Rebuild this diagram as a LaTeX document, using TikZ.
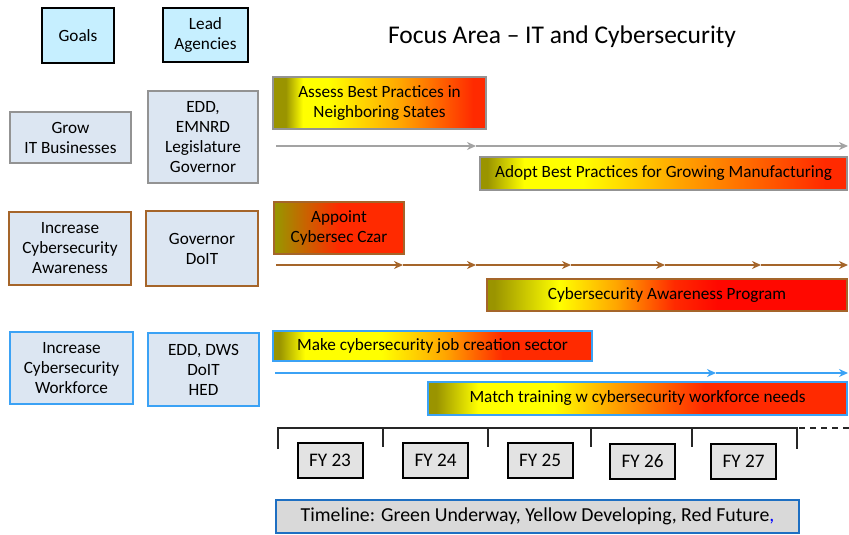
\documentclass[tikz,border=0pt]{standalone}
\usepackage{fontspec}
\setmainfont{Carlito}
\usetikzlibrary{arrows.meta}

\definecolor{hdrfill}{HTML}{C6EFFF}
\definecolor{goalfill}{HTML}{DCE6F2}
\definecolor{grayln}{HTML}{A3A3A3}
\definecolor{brownln}{HTML}{A5652A}
\definecolor{blueln}{HTML}{3BA2F5}
\definecolor{olv}{HTML}{9A9400}
\definecolor{yel}{HTML}{FFFF00}
\definecolor{org}{HTML}{FFA500}
\definecolor{rd}{HTML}{FF2A00}
\definecolor{rdd}{HTML}{FF0800}
\definecolor{fyfill}{HTML}{E3E3E3}
\definecolor{legfill}{HTML}{D9D9D9}
\definecolor{legln}{HTML}{1E6FC2}

% status gradients: the path's width maps onto 25bp..75bp
\pgfdeclarehorizontalshading{shAssess}{100bp}{color(0bp)=(olv); color(28bp)=(olv); color(32bp)=(yel); color(38bp)=(yel); color(55bp)=(org); color(72bp)=(rd); color(100bp)=(rd)}
\pgfdeclarehorizontalshading{shAppoint}{100bp}{color(0bp)=(olv); color(26bp)=(olv); color(50bp)=(rd); color(100bp)=(rd)}
\pgfdeclarehorizontalshading{shAdopt}{100bp}{color(0bp)=(olv); color(26bp)=(olv); color(31bp)=(yel); color(39bp)=(yel); color(52bp)=(org); color(72bp)=(rd); color(100bp)=(rd)}
\pgfdeclarehorizontalshading{shAware}{100bp}{color(0bp)=(olv); color(26bp)=(olv); color(35bp)=(yel); color(43bp)=(org); color(51bp)=(rd); color(57bp)=(rdd); color(100bp)=(rdd)}
\pgfdeclarehorizontalshading{shMake}{100bp}{color(0bp)=(olv); color(26bp)=(olv); color(30bp)=(yel); color(42bp)=(yel); color(52bp)=(org); color(61bp)=(rd); color(100bp)=(rd)}
\pgfdeclarehorizontalshading{shMatch}{100bp}{color(0bp)=(olv); color(26bp)=(olv); color(31bp)=(yel); color(40bp)=(yel); color(47bp)=(org); color(58bp)=(rd); color(100bp)=(rd)}

\tikzset{
  txt/.style={font=\fontsize{17.2}{20}\selectfont, align=center, inner sep=0pt},
  hdrbox/.style={txt, draw=black, line width=2.2pt, fill=hdrfill},
  goalbox/.style={txt, fill=goalfill, line width=2pt},
  barbox/.style={txt, line width=2pt},
  fybox/.style={txt, font=\fontsize{19.2}{22}\selectfont, draw=black, line width=2pt, fill=fyfill, minimum width=65pt, minimum height=35pt},
  tip/.style={-{Stealth[length=9pt,width=8pt]}},
  grayarr/.style={tip, draw=grayln, line width=2.4pt},
  brownarr/.style={tip, draw=brownln, line width=2.8pt},
  bluearr/.style={tip, draw=blueln, line width=2.4pt},
  bracket/.style={draw=black!85, line width=1.8pt}
}

\begin{document}
\begin{tikzpicture}[x=1pt,y=-1pt]
\useasboundingbox (0,0) rectangle (849,535);

% column headers and title
\node[hdrbox, minimum width=72pt, minimum height=55pt] (goals) at (78,35.5) {Goals};
\node[hdrbox, minimum width=85pt, minimum height=54pt] (lead) at (205.5,35) {Lead\\Agencies};
\node[font=\fontsize{25.5}{30}\selectfont, inner sep=0pt] (title) at (562,37) {Focus Area -- IT and Cybersecurity};

% goals and lead agencies
\node[goalbox, draw=gray!85, minimum width=121pt, minimum height=51pt] (g1) at (70.5,137.5) {Grow\\IT Businesses};
\node[goalbox, draw=gray!85, minimum width=110pt, minimum height=92pt] (a1) at (203,137) {EDD,\\EMNRD\\Legislature\\Governor};
\node[goalbox, draw=brownln, minimum width=122pt, minimum height=73pt] (g2) at (70,248.5) {Increase\\Cybersecurity\\Awareness};
\node[goalbox, draw=brownln, minimum width=112pt, minimum height=75pt] (a2) at (202,248.5) {Governor\\DoIT};
\node[goalbox, draw=blueln, minimum width=123pt, minimum height=72pt] (g3) at (71.5,368) {Increase\\Cybersecurity\\Workforce};
\node[goalbox, draw=blueln, minimum width=111pt, minimum height=73pt] (a3) at (203.5,369.5) {EDD, DWS\\DoIT\\HED};

% IT businesses track
\node[barbox, draw=gray!85, shading=shAssess, minimum width=213pt, minimum height=52pt] (assess) at (379.5,103) {Assess Best Practices in\\Neighboring States};
\coordinate (r1s) at (276,146);
\coordinate (r1m) at (476,146);
\coordinate (r1e) at (848,146);
\draw[grayarr] (r1s) -- (r1m);
\draw[grayarr] (r1m) -- (r1e);
\node[barbox, draw=gray!85, shading=shAdopt, minimum width=367pt, minimum height=33pt] (adopt) at (663.5,173.5) {Adopt Best Practices for Growing Manufacturing};

% awareness track
\node[barbox, draw=brownln, shading=shAppoint, minimum width=130pt, minimum height=52pt] (appoint) at (339,228) {Appoint\\Cybersec Czar};
\coordinate (r2s) at (276,265);
\coordinate (r2a) at (403,265);
\coordinate (r2b) at (476,265);
\coordinate (r2c) at (571,265);
\coordinate (r2d) at (665,265);
\coordinate (r2f) at (761,265);
\coordinate (r2e) at (848,265);
\draw[brownarr] (r2s) -- (r2a);
\draw[brownarr] (r2a) -- (r2b);
\draw[brownarr] (r2b) -- (r2c);
\draw[brownarr] (r2c) -- (r2d);
\draw[brownarr] (r2d) -- (r2f);
\draw[brownarr] (r2f) -- (r2e);
\node[barbox, draw=brownln, shading=shAware, minimum width=360pt, minimum height=32pt] (aware) at (667,295) {Cybersecurity Awareness Program};

% workforce track
\node[barbox, draw=blueln, shading=shMake, minimum width=319pt, minimum height=30pt] (make) at (432.5,346) {Make cybersecurity job creation sector};
\coordinate (r3s) at (275,373);
\coordinate (r3m) at (716,373);
\coordinate (r3e) at (848,373);
\draw[bluearr] (r3s) -- (r3m);
\draw[bluearr] (r3m) -- (r3e);
\node[barbox, draw=blueln, shading=shMatch, minimum width=419pt, minimum height=33pt] (match) at (637.5,398.5) {Match training w cybersecurity workforce needs};

% fiscal-year bracket
\coordinate (t0) at (278,428);
\coordinate (t1) at (383,428);
\coordinate (t2) at (488,428);
\coordinate (t3) at (591,428);
\coordinate (t4) at (692,428);
\coordinate (t5) at (797,428);
\coordinate (tend) at (850,428);
\draw[bracket] ([yshift=-21pt]t0) -- (t0) -- (t5) -- ([yshift=-21pt]t5);
\foreach \t in {t1,t2,t3,t4} \draw[bracket] (\t) -- ([yshift=-19pt]\t);
\draw[bracket, dash pattern=on 6pt off 5pt] ([xshift=2pt]t5) -- (tend);

\node[fybox] (fy23) at (330,460) {FY 23};
\node[fybox] (fy24) at (435.5,460) {FY 24};
\node[fybox] (fy25) at (540,460) {FY 25};
\node[fybox] (fy26) at (642.5,461) {FY 26};
\node[fybox] (fy27) at (743.5,461) {FY 27};

% legend
\node[txt, font=\fontsize{19.8}{22}\selectfont, draw=legln, line width=2.8pt, fill=legfill, minimum width=523pt, minimum height=33pt] (legend) at (537.5,516.5) {Timeline: Green Underway, Yellow Developing, Red Future{\color{blue},}};
\end{tikzpicture}
\end{document}
